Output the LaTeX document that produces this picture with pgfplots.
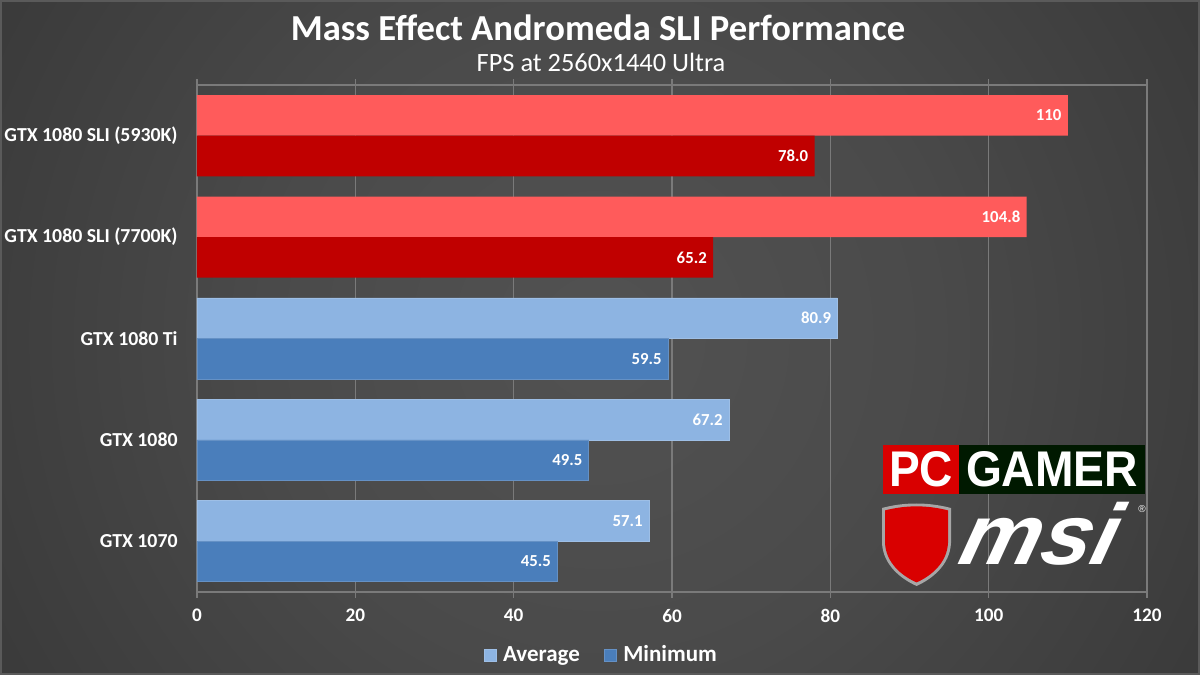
\documentclass[border=0pt]{standalone}
\usepackage{pgfplots}
\pgfplotsset{compat=1.18}
\usepackage{fontspec}
\setmainfont{Carlito}
\newfontfamily\logofont{Liberation Sans}
\definecolor{lred}{HTML}{FF5B5B}
\definecolor{dred}{HTML}{C00000}
\definecolor{lblue}{HTML}{8DB4E2}
\definecolor{dblue}{HTML}{4A7EBB}
\definecolor{gridc}{HTML}{7A7A7A}
\definecolor{bgc0}{HTML}{525252}
\definecolor{bgc1}{HTML}{4A4A4A}
\definecolor{bgc2}{HTML}{3B3B3B}
\definecolor{bgc3}{HTML}{262626}
\definecolor{frame}{HTML}{5A5A5A}
\pgfdeclareradialshading{bgshade}{\pgfpoint{0bp}{0bp}}{color(0bp)=(bgc0); color(14bp)=(bgc1); color(28bp)=(bgc2); color(50bp)=(bgc3)}
\begin{document}
\begin{tikzpicture}
\path[use as bounding box] (0pt,0pt) rectangle (600pt,337.5pt);
\begin{scope}
\clip (0pt,0pt) rectangle (600pt,337.5pt);
\shade[shading=bgshade] (0pt,-131.25pt) rectangle (600pt,468.75pt);
\end{scope}
\draw[frame,line width=1pt] (0.5pt,0.5pt) rectangle (599.5pt,337pt);
\node[anchor=base,text=white,font=\fontsize{18.3}{20}\selectfont\bfseries] at (299pt,317pt) {Mass Effect Andromeda SLI Performance};
\node[anchor=base,text=white,font=\fontsize{13.2}{15}\selectfont] at (300.5pt,301.5pt) {FPS at 2560x1440 Ultra};
\begin{axis}[
  at={(98.5pt,41.5pt)}, anchor=south west,
  scale only axis, width=475pt, height=253.5pt,
  xbar, bar width=0.4,
  xmin=0, xmax=120, ymin=-0.5, ymax=4.5,
  xtick={0,20,...,120},
  ytick={0,1,2,3,4},
  yticklabels={GTX 1070,GTX 1080,GTX 1080 Ti,GTX 1080 SLI (7700K),GTX 1080 SLI (5930K)},
  ytick style={draw=none},
  tick align=outside, major tick length=3pt,
  xtick style={draw=gridc,line width=0.6pt},
  xmajorgrids, grid style={draw=gridc,line width=0.6pt},
  axis line style={draw=gridc,line width=0.6pt},
  /pgf/number format/assume math mode=true,
  xticklabel style={text=white,font=\fontsize{9.6}{11}\selectfont\bfseries,inner sep=0pt,yshift=-5.5pt},
  yticklabel style={text=white,font=\fontsize{9.9}{11}\selectfont\bfseries,inner sep=0pt,xshift=-6.5pt},
  point meta=explicit symbolic,
  nodes near coords={\pgfplotspointmeta},
  every node near coord/.append style={anchor=east,inner sep=0pt,xshift=-3pt,text=white,font=\fontsize{8.4}{10}\selectfont\bfseries},
  legend style={at={(0.426,-0.125)},anchor=center,draw=none,fill=none,
    legend columns=2,
    /tikz/every odd column/.append style={column sep=1.8pt},
    /tikz/every even column/.append style={column sep=10.5pt},
    nodes={inner sep=1.5pt,text=white,font=\fontsize{11.5}{13}\selectfont\bfseries}},
  legend image code/.code={\fill[#1] (0pt,-3pt) rectangle (6pt,3pt);},
]
\addplot[fill=lblue,draw=lblue!85!white,line width=0.4pt,bar shift=0.2] coordinates {(57.1,0) [57.1] (67.2,1) [67.2] (80.9,2) [80.9]};
\addlegendentry{Average}
\addplot[fill=dblue,draw=dblue!85!white,line width=0.4pt,bar shift=-0.2] coordinates {(45.5,0) [45.5] (49.5,1) [49.5] (59.5,2) [59.5]};
\addlegendentry{Minimum}
\addplot[fill=lred,draw=none,bar shift=0.2,forget plot] coordinates {(104.8,3) [104.8] (110,4) [110]};
\addplot[fill=dred,draw=none,bar shift=-0.2,forget plot] coordinates {(65.2,3) [65.2] (78.0,4) [78.0]};
\pgfplotsinvokeforeach{-0.5,0.5,1.5,2.5,3.5,4.5}{\draw[gridc,line width=0.6pt] (axis cs:0,#1) -- ++(-3pt,0pt);}
\end{axis}
% PC GAMER logo
\fill[red!85!black] (441.5pt,90.5pt) rectangle (479.5pt,115pt);
\fill[black!90!green] (479.5pt,90.5pt) rectangle (572.5pt,115pt);
\node[text=white,inner sep=0pt] at (460.5pt,102.75pt) {\resizebox{32pt}{17.5pt}{\logofont\bfseries PC}};
\node[text=white,inner sep=0pt] at (526pt,102.75pt) {\resizebox{86pt}{17.5pt}{\logofont\bfseries GAMER}};
% msi logo
\fill[gray!70] (441pt,83.5pt) .. controls (452pt,86.5pt) and (464pt,86.5pt) .. (475.5pt,83.5pt) -- (475.5pt,66pt) .. controls (475pt,55pt) and (466pt,48pt) .. (458.3pt,44.5pt) .. controls (450.5pt,48pt) and (441.5pt,55pt) .. (441pt,66pt) -- cycle;
\fill[red!85!black] (442.5pt,82.3pt) .. controls (453pt,85pt) and (463.5pt,85pt) .. (474pt,82.3pt) -- (474pt,66pt) .. controls (473.5pt,56pt) and (465.5pt,49.5pt) .. (458.3pt,46.3pt) .. controls (451pt,49.5pt) and (443pt,56pt) .. (442.5pt,66pt) -- cycle;
\node[text=white,inner sep=0pt,anchor=base west,xslant=0.25] at (478pt,55pt) {\scalebox{1.055}[1]{\fontsize{43}{43}\selectfont\logofont\bfseries\itshape msi}};
\node[text=white,inner sep=0pt,font=\fontsize{5}{5}\selectfont\logofont] at (571pt,83pt) {®};
\end{tikzpicture}
\end{document}
